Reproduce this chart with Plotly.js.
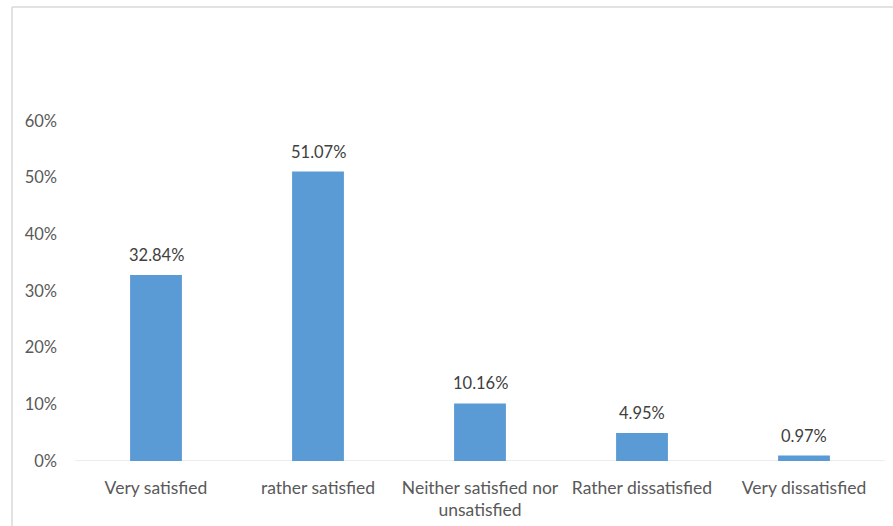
<!DOCTYPE html>
<html><head><meta charset="utf-8">
<script src="https://cdn.plot.ly/plotly-3.0.1.min.js"></script>
<style>html,body{margin:0;padding:0;background:#fff;overflow:hidden}#chart{width:893px;height:526px}</style>
</head><body><div id="chart"></div>
<script>
const categories = ["Very satisfied", "rather satisfied", "Neither satisfied nor<br>unsatisfied", "Rather dissatisfied", "Very dissatisfied"];
const values = [0.3284, 0.5107, 0.1016, 0.0495, 0.0097];
const valueLabels = ["32.84%", "51.07%", "10.16%", "4.95%", "0.97%"];
const yTicks = [0, 0.1, 0.2, 0.3, 0.4, 0.5, 0.6];
const yTickLabels = ["0%", "10%", "20%", "30%", "40%", "50%", "60%"];

const fontFam = "Lato, 'Open Sans', 'DejaVu Sans', sans-serif";
const annotations = categories.map((c, i) => ({
  x: c, y: values[i], xref: 'x', yref: 'y', text: valueLabels[i], showarrow: false,
  yanchor: 'bottom', yshift: 8, font: {family: fontFam, size: 16.5, color: '#404040'}
}));
const L = 75, W = 818, B = 461, H = 340;
Plotly.newPlot('chart', [{
  type: 'bar', x: categories, y: values,
  marker: {color: '#5B9BD5'}, hoverinfo: 'none'
}], {
  width: 893, height: 526,
  margin: {l: 75, r: 0, t: 121, b: 65},
  paper_bgcolor: '#fff', plot_bgcolor: '#fff',
  bargap: 0.68, showlegend: false,
  font: {family: fontFam, size: 17.5, color: '#595959'},
  xaxis: {range: [-0.5, 4.5 + 8 / 162], showline: false, ticks: '', showgrid: false,
          tickfont: {family: fontFam, size: 17.5, color: '#595959'}, ticklabelstandoff: 14},
  yaxis: {range: [0, 0.6], tickvals: yTicks, ticktext: yTickLabels, showgrid: false,
          zeroline: false, showline: false, ticks: '', ticklabelstandoff: 17,
          tickfont: {family: fontFam, size: 16.5, color: '#595959'}},
  annotations: annotations,
  shapes: [
    {type: 'line', xref: 'x', yref: 'y', x0: -0.5, x1: 4.5, y0: 0, y1: 0,
     line: {color: '#d9d9d9', width: 1}, layer: 'below'},
    {type: 'line', xref: 'paper', yref: 'paper', x0: (12 - L) / W, x1: (12 - L) / W,
     y0: (B - 530) / H, y1: (B - 7) / H, line: {color: '#d9d9d9', width: 1.5}},
    {type: 'line', xref: 'paper', yref: 'paper', x0: (12 - L) / W, x1: 1.01,
     y0: (B - 7) / H, y1: (B - 7) / H, line: {color: '#d9d9d9', width: 1.5}}
  ]
}, {staticPlot: true});
</script></body></html>
